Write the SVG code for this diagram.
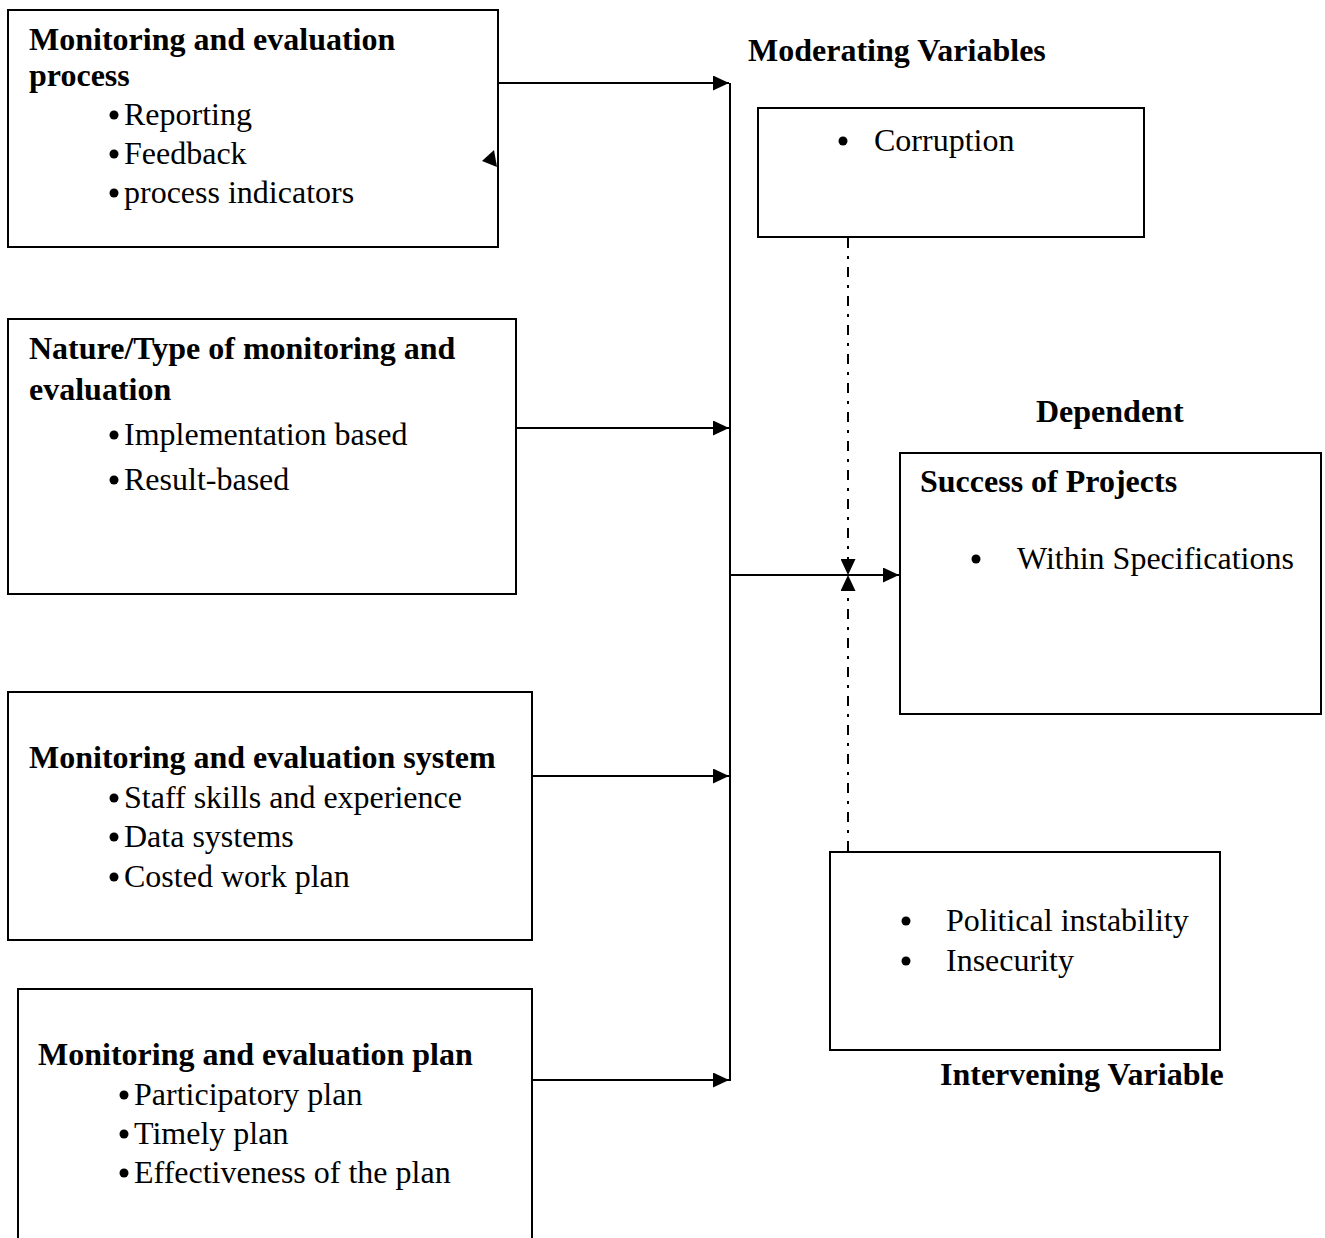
<svg xmlns="http://www.w3.org/2000/svg" width="1325" height="1238" viewBox="0 0 1325 1238">
<style>
.box{fill:#fff;stroke:#000;stroke-width:2}
text{font-family:"Liberation Serif","Times New Roman",serif;font-size:32px;fill:#000}
.b{font-weight:bold}
.ln{stroke:#000;stroke-width:2;fill:none}
.dd{stroke:#000;stroke-width:2;fill:none;stroke-dasharray:10,8,3,8}
</style>
<defs>
<marker id="ah2" viewBox="0 0 16 15" refX="16" refY="7.5" markerWidth="16" markerHeight="15" markerUnits="userSpaceOnUse" orient="auto" preserveAspectRatio="none"><path d="M0,0 L16,7.5 L0,15 z" fill="#000"/></marker>
</defs>
<rect width="1325" height="1238" fill="#fff"/>
<g id="node-process">
<rect class="box" x="8" y="10" width="490" height="237"/>
<text class="b" x="29" y="50">Monitoring and evaluation</text>
<text class="b" x="29" y="86">process</text>
<circle cx="114" cy="115" r="4.5"/><text x="124" y="125">Reporting</text>
<circle cx="114" cy="154" r="4.5"/><text x="124" y="164">Feedback</text>
<circle cx="114" cy="193" r="4.5"/><text x="124" y="203">process indicators</text>
</g>
<g id="node-nature">
<rect class="box" x="8" y="319" width="508" height="275"/>
<text class="b" x="29" y="359">Nature/Type of monitoring and</text>
<text class="b" x="29" y="400">evaluation</text>
<circle cx="114" cy="435" r="4.5"/><text x="124" y="445">Implementation based</text>
<circle cx="114" cy="480" r="4.5"/><text x="124" y="490">Result-based</text>
</g>
<g id="node-system">
<rect class="box" x="8" y="692" width="524" height="248"/>
<text class="b" x="29" y="768">Monitoring and evaluation system</text>
<circle cx="114" cy="798" r="4.5"/><text x="124" y="808">Staff skills and experience</text>
<circle cx="114" cy="837" r="4.5"/><text x="124" y="847">Data systems</text>
<circle cx="114" cy="877" r="4.5"/><text x="124" y="887">Costed work plan</text>
</g>
<g id="node-plan">
<rect class="box" x="18" y="989" width="514" height="260"/>
<text class="b" x="38" y="1065">Monitoring and evaluation plan</text>
<circle cx="124" cy="1095" r="4.5"/><text x="134" y="1105">Participatory plan</text>
<circle cx="124" cy="1134" r="4.5"/><text x="134" y="1144">Timely plan</text>
<circle cx="124" cy="1173" r="4.5"/><text x="134" y="1183">Effectiveness of the plan</text>
</g>
<g id="node-moderating">
<text class="b" x="748" y="61">Moderating Variables</text>
<rect class="box" x="758" y="108" width="386" height="129"/>
<circle cx="843" cy="141" r="4.5"/><text x="874" y="151">Corruption</text>
</g>
<g id="node-dependent">
<text class="b" x="1036" y="422">Dependent</text>
<rect class="box" x="900" y="453" width="421" height="261"/>
<text class="b" x="920" y="492">Success of Projects</text>
<circle cx="976" cy="559" r="4.5"/><text x="1017" y="569">Within Specifications</text>
</g>
<g id="node-intervening">
<rect class="box" x="830" y="852" width="390" height="198"/>
<circle cx="906" cy="921" r="4.5"/><text x="946" y="931">Political instability</text>
<circle cx="906" cy="961" r="4.5"/><text x="946" y="971">Insecurity</text>
<text class="b" x="940" y="1085">Intervening Variable</text>
</g>
<g id="connectors">
<line class="ln" x1="730" y1="83" x2="730" y2="1081"/>
<line class="ln" x1="498" y1="83" x2="729" y2="83" marker-end="url(#ah2)"/>
<line class="ln" x1="516" y1="428" x2="729" y2="428" marker-end="url(#ah2)"/>
<line class="ln" x1="532" y1="776" x2="729" y2="776" marker-end="url(#ah2)"/>
<line class="ln" x1="532" y1="1080" x2="729" y2="1080" marker-end="url(#ah2)"/>
<line class="ln" x1="730" y1="575" x2="899" y2="575" marker-end="url(#ah2)"/>
<line class="dd" x1="848" y1="238" x2="848" y2="575" marker-end="url(#ah2)"/>
<line class="dd" x1="848" y1="851" x2="848" y2="575" marker-end="url(#ah2)"/>
<path d="M482,161 L494,150 L497,167 z" fill="#000"/>
</g>
</svg>
